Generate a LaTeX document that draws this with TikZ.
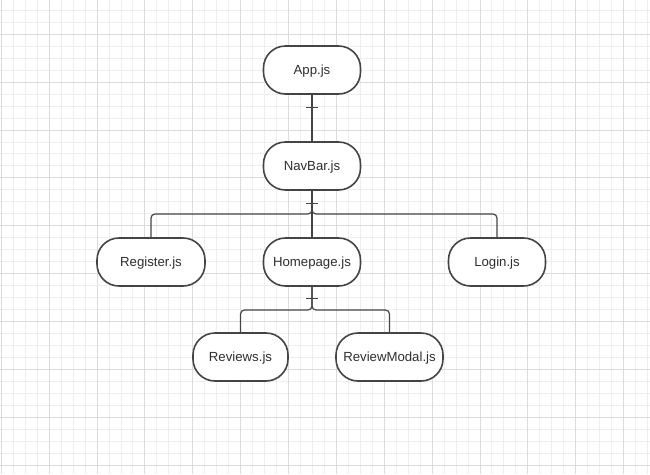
\documentclass[tikz,border=0pt]{standalone}
\usepackage{fontspec}
\setmainfont{Liberation Sans}
\usetikzlibrary{calc}
\begin{document}
\begin{tikzpicture}[x=1pt,y=-1pt,
  comp/.style={draw=linegray, line width=1.6pt, fill=white, rounded corners=22pt,
    minimum height=48pt, inner sep=0pt, text=textgray,
    text height=9.5pt, text depth=0.5pt,
    font=\fontsize{13.2pt}{15pt}\selectfont},
  link/.style={draw=linegray, line width=1.2pt, rounded corners=4pt},
  tick/.style={draw=linegray, line width=1.2pt},
  minorgrid/.style={draw=gridminor, line width=1pt},
  majorgrid/.style={draw=gridmajor, line width=1pt}]
\definecolor{linegray}{HTML}{444444}
\definecolor{textgray}{HTML}{2E2E2E}
\definecolor{gridminor}{HTML}{EEEEEE}
\definecolor{gridmajor}{HTML}{DCDCDC}
\useasboundingbox (0,0) rectangle (650,474);
\fill[white] (0,0) rectangle (650,474);

% background grid: minor every 11.967, major every fourth line
\foreach \k in {0,...,54} {
  \pgfmathsetmacro{\gx}{1.33+\k*11.967}
  \draw[minorgrid] (\gx,0) -- (\gx,474);
}
\foreach \k in {1,...,40} {
  \pgfmathsetmacro{\gy}{-1.6+\k*11.967}
  \draw[minorgrid] (0,\gy) -- (650,\gy);
}
\foreach \k in {0,4,...,52} {
  \pgfmathsetmacro{\gx}{1.33+\k*11.967}
  \draw[majorgrid] (\gx,0) -- (\gx,474);
}
\foreach \k in {3,7,...,39} {
  \pgfmathsetmacro{\gy}{-1.6+\k*11.967}
  \draw[majorgrid] (0,\gy) -- (650,\gy);
}

% components
\node[comp, minimum width=97pt]  (app)    at (312,70)    {App.js};
\node[comp, minimum width=97pt]  (nav)    at (312,166)   {NavBar.js};
\node[comp, minimum width=108pt] (reg)    at (151,262)   {Register.js};
\node[comp, minimum width=97pt]  (home)   at (312,262)   {Homepage.js};
\node[comp, minimum width=97pt]  (login)  at (497,262)   {Login.js};
\node[comp, minimum width=95pt]  (rev)    at (240.5,357) {Reviews.js};
\node[comp, minimum width=107pt] (modal)  at (389.5,357) {ReviewModal.js};

% connectors
\draw[link] (app.south) -- (nav.north);
\draw[tick] ($(app.south)+(-6,12.5)$) -- ++(12,0);

\draw[link] (nav.south) |- (151,214) -- (reg.north);
\draw[link] (nav.south) |- (497,214) -- (login.north);
\draw[link] (nav.south) -- (home.north);
\draw[tick] ($(nav.south)+(-6,12.5)$) -- ++(12,0);

\draw[link] (home.south) |- (240.5,310) -- (rev.north);
\draw[link] (home.south) |- (389.5,310) -- (modal.north);
\draw[tick] ($(home.south)+(-6,12)$) -- ++(12,0);
\end{tikzpicture}
\end{document}
